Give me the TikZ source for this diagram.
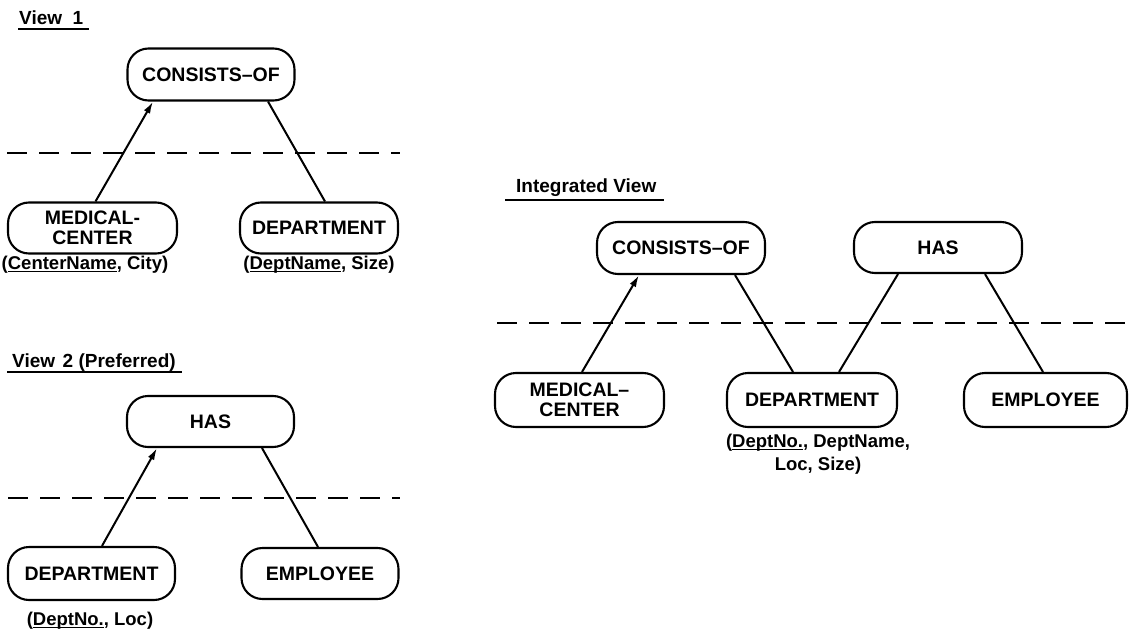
\documentclass[tikz,border=0pt]{standalone}
\usepackage{fontspec}
\setmainfont{Liberation Sans}
\usetikzlibrary{arrows.meta}

% key attribute: text with a rule under its baseline
\newcommand\keyattr[1]{\setbox0\hbox{#1}\rlap{\rule[-3pt]{\wd0}{1.4pt}}\box0}

\tikzset{
  entity/.style={draw, line width=2.1pt, rounded corners=21pt,
    minimum height=52pt, minimum width=167pt, inner sep=0pt, align=center,
    font=\bfseries\fontsize{19.5}{20.5}\selectfont},
  attr/.style={inner sep=0pt, align=center,
    font=\bfseries\fontsize{18.5}{23}\selectfont},
  viewtitle/.style={inner sep=0pt,
    font=\bfseries\fontsize{19}{22}\selectfont},
  titlerule/.style={line width=1.6pt},
  link/.style={line width=2pt},
  isa/.style={link, -{Latex[length=12pt,width=7pt]}},
  partition/.style={line width=1.7pt, dash pattern=on 20pt off 12pt}
}

\begin{document}
\begin{tikzpicture}[x=1pt, y=-1pt]
\useasboundingbox (0,0) rectangle (1131,636);

% ---------------- View 1 ----------------
\node[viewtitle, anchor=base west] (t1) at (19,24.5) {View\hspace{0.55em}1};
\draw[titlerule] ([xshift=-1pt,yshift=-4.5pt]t1.base west) -- ([xshift=6pt,yshift=-4.5pt]t1.base east);

\node[entity] (co1) at (211,74.5) {CONSISTS–OF};
\node[entity, minimum width=169pt, minimum height=51pt] (mc1) at (92.5,228) {MEDICAL-\\CENTER};
\node[entity, minimum width=158pt, minimum height=51pt] (de1) at (319,228) {DEPARTMENT};

\coordinate (p1l) at (7,153);
\coordinate (p1r) at (400,153);
\draw[partition] (p1l) -- (p1r);

\draw[isa] ([xshift=3pt]mc1.north) -- ([xshift=-58pt]co1.south);
\draw[link] ([xshift=57pt]co1.south) -- ([xshift=6pt]de1.north);

\node[attr, anchor=base] (a1) at (85,269) {(\keyattr{CenterName}, City)};
\node[attr, anchor=base] (a2) at (319,269) {(\keyattr{DeptName}, Size)};

% ---------------- View 2 ----------------
\node[viewtitle, anchor=base west] (t2) at (12,367) {View\hspace{0.4em}2 (Preferred)};
\draw[titlerule] ([xshift=-5pt,yshift=-5pt]t2.base west) -- ([xshift=6pt,yshift=-5pt]t2.base east);

\node[entity, minimum height=51pt] (has2) at (210.5,421.5) {HAS};
\node[entity, minimum height=53pt] (de2) at (91.5,573.5) {DEPARTMENT};
\node[entity, minimum width=157pt, minimum height=51pt] (em2) at (320,573.5) {EMPLOYEE};

\coordinate (p2l) at (8,498);
\coordinate (p2r) at (400,498);
\draw[partition] (p2l) -- (p2r);

\draw[isa] ([xshift=10.5pt]de2.north) -- ([xshift=-53.5pt]has2.south);
\draw[link] ([xshift=51.5pt]has2.south) -- ([xshift=-2pt]em2.north);

\node[attr, anchor=base] (a3) at (90,625) {(\keyattr{DeptNo.}, Loc)};

% ---------------- Integrated View ----------------
\node[viewtitle, anchor=base west] (t3) at (516,193) {Integrated View};
\draw[titlerule] ([xshift=-11pt,yshift=-7pt]t3.base west) -- ([xshift=8pt,yshift=-7pt]t3.base east);

\node[entity, minimum width=168pt] (co3) at (681,248) {CONSISTS–OF};
\node[entity, minimum width=168pt, minimum height=51pt] (has3) at (938,247.5) {HAS};
\node[entity, minimum width=169pt, minimum height=54pt] (mc3) at (579.5,400) {MEDICAL–\\CENTER};
\node[entity, minimum width=170pt, minimum height=54pt] (de3) at (812,400) {DEPARTMENT};
\node[entity, minimum width=163pt, minimum height=54pt] (em3) at (1045.5,400) {EMPLOYEE};

\coordinate (p3l) at (497,323);
\coordinate (p3r) at (1131,323);
\draw[partition] (p3l) -- (p3r);

\draw[isa] ([xshift=2.5pt]mc3.north) -- ([xshift=-42pt]co3.south);
\draw[link] ([xshift=54pt]co3.south) -- ([xshift=-19pt]de3.north);
\draw[link] ([xshift=-40pt]has3.south) -- ([xshift=27pt]de3.north);
\draw[link] ([xshift=47pt]has3.south) -- ([xshift=-2.5pt]em3.north);

% the base anchor of a two-line node sits on its last line
\node[attr, anchor=base] (a4) at (818,470) {(\keyattr{DeptNo.}, DeptName,\\Loc, Size)};
\end{tikzpicture}
\end{document}
